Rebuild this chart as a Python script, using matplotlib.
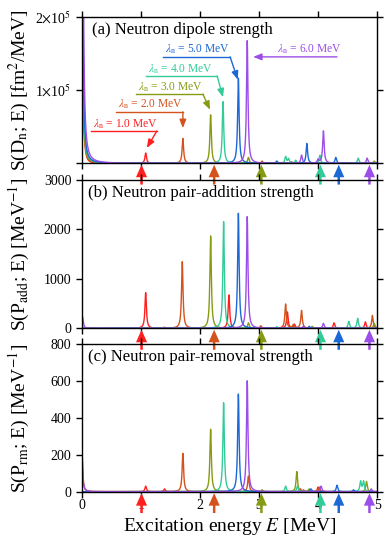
import numpy as np
import matplotlib
matplotlib.use('Agg')
import matplotlib.pyplot as plt

plt.rcParams['font.family'] = ['Liberation Serif', 'DejaVu Serif']
plt.rcParams['mathtext.fontset'] = 'stix'

# one colour per neutron chemical potential lambda_n
colors = ['#ff1f1f', '#d4521c', '#879b12', '#33cc99', '#1c68d6', '#9b4ee8']
lambdas = ['1.0', '2.0', '3.0', '4.0', '5.0', '6.0']
# threshold arrows under each panel (MeV)
thresholds = [1.01, 2.24, 3.04, 4.04, 4.35, 4.87]

# peaks (energy MeV, height)
# (a) neutron dipole strength [fm^2/MeV]
dip_l1 = [(0.03, 1.25e5), (1.08, 1.4e4), (3.55, 2e3)]
dip_l2 = [(0.0, 3e5), (1.71, 3.4e4), (3.05, 3e3)]
dip_l3 = [(0.0, 4e5), (2.18, 6.6e4), (2.82, 8e3), (4.95, 3e3)]
dip_l4 = [(0.0, 5e5), (2.39, 8.4e4), (3.45, 9e3), (3.5, 6e3), (3.62, 4e3),
          (4.03, 1.1e4), (4.68, 7e3)]
dip_l5 = [(0.0, 6e5), (2.65, 1.16e5), (3.3, 3e3), (3.81, 2.7e4), (4.3, 8e3)]
dip_l6 = [(0.0, 1e6), (2.80, 1.67e5), (3.72, 1.1e4), (4.0, 5e3), (4.09, 4.4e4),
          (4.83, 7e3)]

# (b) neutron pair-addition strength [1/MeV]
add_l1 = [(1.08, 720), (1.4, 20), (2.49, 674), (3.48, 330), (3.6, 80),
          (4.27, 110), (4.80, 130)]
add_l2 = [(1.70, 1347), (3.03, 50), (3.45, 490), (3.58, 70), (3.72, 360),
          (4.92, 260)]
add_l3 = [(2.18, 1867), (2.82, 110), (3.9, 40), (4.95, 100)]
add_l4 = [(2.40, 2157), (3.3, 30), (4.52, 140), (4.67, 200)]
add_l5 = [(2.65, 2326), (3.85, 40)]
add_l6 = [(0.01, 235), (2.80, 2258), (3.75, 40), (4.09, 100)]

# (c) neutron pair-removal strength [1/MeV]
rm_l1 = [(1.08, 30), (1.40, 15), (3.7, 15), (4.0, 25)]
rm_l2 = [(0.0, 226), (1.71, 208), (2.82, 85), (3.75, 10), (4.02, 25)]
rm_l3 = [(2.18, 339), (3.05, 10), (3.64, 109), (3.85, 15), (4.82, 55)]
rm_l4 = [(2.40, 483), (3.45, 30), (3.65, 30), (4.72, 55), (4.77, 55)]
rm_l5 = [(2.65, 530), (3.88, 15), (4.32, 35), (4.6, 10)]
rm_l6 = [(0.0, 199), (2.80, 602), (4.05, 30), (4.9, 15)]

panels = [
    ([dip_l1, dip_l2, dip_l3, dip_l4, dip_l5, dip_l6],
     '(a) Neutron dipole strength',
     r'S(D$_\mathrm{n}$; E) [fm$^2$/MeV]', 2e5),
    ([add_l1, add_l2, add_l3, add_l4, add_l5, add_l6],
     '(b) Neutron pair-addition strength',
     r'S(P$_\mathrm{add}$; E) [MeV$^{-1}$]', 3000),
    ([rm_l1, rm_l2, rm_l3, rm_l4, rm_l5, rm_l6],
     '(c) Neutron pair-removal strength',
     r'S(P$_\mathrm{rm}$; E) [MeV$^{-1}$]', 800),
]

gamma = 0.015  # smearing width (MeV)
E = np.linspace(0, 5, 5001)


def strength(peaks):
    s = np.zeros_like(E)
    for e0, h in peaks:
        s += h / (1 + ((E - e0) / gamma) ** 2)
    return s


fig = plt.figure(figsize=(3.9, 5.38), dpi=100)
boxes = [[0.210, 0.6965, 0.757, 0.2728],
         [0.210, 0.3898, 0.757, 0.2756],
         [0.210, 0.0861, 0.757, 0.2739]]
axes = [fig.add_axes(b) for b in boxes]

for i, (ax, (series, title, ylab, ymax)) in enumerate(zip(axes, panels)):
    ax.patch.set_alpha(0)
    for peaks, c in zip(series, colors):
        ax.plot(E, strength(peaks), color=c, lw=1.0)
    ax.set_xlim(0, 5)
    ax.set_ylim(0, ymax)
    ax.set_xticks(range(6))
    ax.tick_params(direction='out', length=4.5, width=1, labelsize=10,
                   top=True, right=True, pad=3)
    ax.tick_params(axis='x', pad=0.5)
    if i < 2:
        ax.tick_params(labelbottom=False)
    for sp in ax.spines.values():
        sp.set_linewidth(1.0)
    ax.set_ylabel(ylab, fontsize=14)
    ax.yaxis.set_label_coords(-0.17, 0.5)
    tx = 0.034 if i == 0 else 0.02
    ax.text(tx, 0.965, title, transform=ax.transAxes, fontsize=12,
            ha='left', va='top')
    for t, c in zip(thresholds, colors):
        ax.annotate('', xy=(t, -0.01), xycoords=('data', 'axes fraction'),
                    xytext=(t, -0.145), textcoords=('data', 'axes fraction'),
                    arrowprops=dict(width=1.8, headwidth=8, headlength=9,
                                    color=c, lw=0),
                    annotation_clip=False)

axes[0].set_yticks([0, 1e5, 2e5])
axes[0].set_yticklabels(['', r'1$\times$10$^5$', r'2$\times$10$^5$'])
axes[1].set_yticks([0, 1000, 2000, 3000])
axes[2].set_yticks([0, 200, 400, 600, 800])
axes[2].set_xlabel(r'Excitation energy $E$ [MeV]', fontsize=14, labelpad=3)

# lambda_n labels in panel (a)
text_x = [0.19, 0.61, 0.95, 1.12, 1.41, 3.31]
line_y = [4.4e4, 7.0e4, 9.4e4, 1.19e5, 1.45e5, 1.45e5]
line_end = [1.27, 1.71, 2.05, 2.29, 2.51, 4.32]
tips = [(1.10, 2.1e4), (1.71, 4.8e4), (2.17, 7.3e4), (2.39, 9.0e4),
        (2.64, 1.14e5), (2.90, 1.45e5)]
ax = axes[0]
for k in range(6):
    c = colors[k]
    ax.text(text_x[k], line_y[k] + 600, r'$\lambda_\mathrm{n}$ = ' + lambdas[k] + ' MeV',
            color=c, fontsize=8.3, ha='left', va='bottom')
    if k < 5:
        ax.plot([text_x[k] - 0.04, line_end[k]], [line_y[k], line_y[k]],
                color=c, lw=1.0)
    ax.annotate('', xy=tips[k], xytext=(line_end[k], line_y[k]),
                arrowprops=dict(arrowstyle='-|>,head_length=0.5,head_width=0.2',
                                color=c, lw=1.0, shrinkA=0, shrinkB=0))

plt.savefig('out.png', dpi=100)
